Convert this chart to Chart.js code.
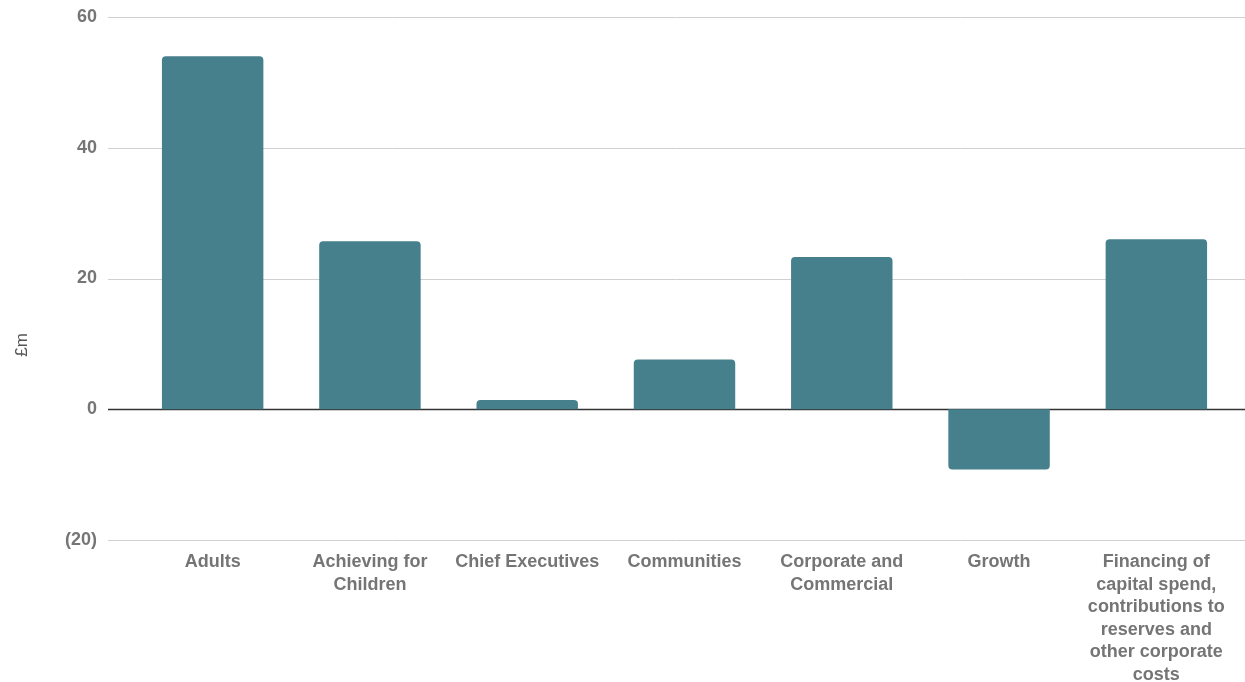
<!DOCTYPE html>
<html>
<head>
<meta charset="utf-8">
<script src="https://cdn.jsdelivr.net/npm/chart.js@4"></script>
<style>
  html, body { margin: 0; padding: 0; background: #fff; }
  #wrap { width: 1245px; height: 682px; }
</style>
</head>
<body>
<div id="wrap"><canvas id="budgetChart"></canvas></div>
<script>
const categories = [
  "Adults",
  ["Achieving for", "Children"],
  "Chief Executives",
  "Communities",
  ["Corporate and", "Commercial"],
  "Growth",
  ["Financing of", "capital spend,", "contributions to", "reserves and", "other corporate", "costs"],
];
const values = [54.0, 25.7, 1.4, 7.6, 23.3, -9.2, 26.0];
const yTicks = [-20, 0, 20, 40, 60];

const textGrey = "#757575";
const labelFont = "'Liberation Sans', Arial, sans-serif";

// horizontal rules run from left of the tick labels to the canvas edge
const gridLines = {
  id: "gridLines",
  beforeDatasetsDraw(chart) {
    const { ctx } = chart;
    const y = chart.scales.y;
    ctx.save();
    yTicks.forEach((t) => {
      const py = Math.round(y.getPixelForValue(t)) + 0.5;
      ctx.beginPath();
      ctx.strokeStyle = t === 0 ? "#333333" : "#d0d0d0";
      ctx.lineWidth = t === 0 ? 1.5 : 1;
      ctx.moveTo(108, py);
      ctx.lineTo(chart.width, py);
      ctx.stroke();
    });
    ctx.restore();
  },
  afterDraw(chart) {
    const { ctx } = chart;
    ctx.save();
    ctx.translate(22, chart.height / 2 + 4);
    ctx.rotate(-Math.PI / 2);
    ctx.fillStyle = "#555";
    ctx.font = "17px " + labelFont;
    ctx.textAlign = "center";
    ctx.textBaseline = "middle";
    ctx.fillText("£m", 0, 0);
    ctx.restore();
  },
};

new Chart(document.getElementById("budgetChart").getContext("2d"), {
  type: "bar",
  data: {
    labels: categories,
    datasets: [
      {
        data: values,
        backgroundColor: "#46808c",
        borderRadius: 4,
        borderSkipped: "start",
        barPercentage: 1,
        categoryPercentage: 0.645,
      },
    ],
  },
  options: {
    responsive: true,
    maintainAspectRatio: false,
    animation: false,
    layout: { padding: { top: 17, right: 10, left: 0, bottom: 0 } },
    plugins: {
      legend: { display: false },
      tooltip: { enabled: false },
    },
    scales: {
      x: {
        grid: { display: false, drawTicks: false },
        border: { display: false },
        ticks: {
          color: textGrey,
          font: { family: labelFont, size: 18, weight: "bold", lineHeight: 1.25 },
          padding: 11,
          maxRotation: 0,
          autoSkip: false,
        },
        afterFit(scale) {
          scale.height = 142;
          scale.paddingLeft = 0;
          scale.paddingRight = 0;
        },
      },
      y: {
        min: -20,
        max: 60,
        grid: { display: false, drawTicks: false },
        border: { display: false },
        ticks: {
          stepSize: 20,
          color: textGrey,
          font: { family: labelFont, size: 18, weight: "bold" },
          padding: 37,
          callback: (v) => (v < 0 ? "(" + -v + ")" : v),
        },
        afterFit(scale) {
          scale.width = 134;
          scale.paddingTop = 0;
          scale.paddingBottom = 0;
        },
      },
    },
  },
  plugins: [gridLines],
});
</script>
</body>
</html>
